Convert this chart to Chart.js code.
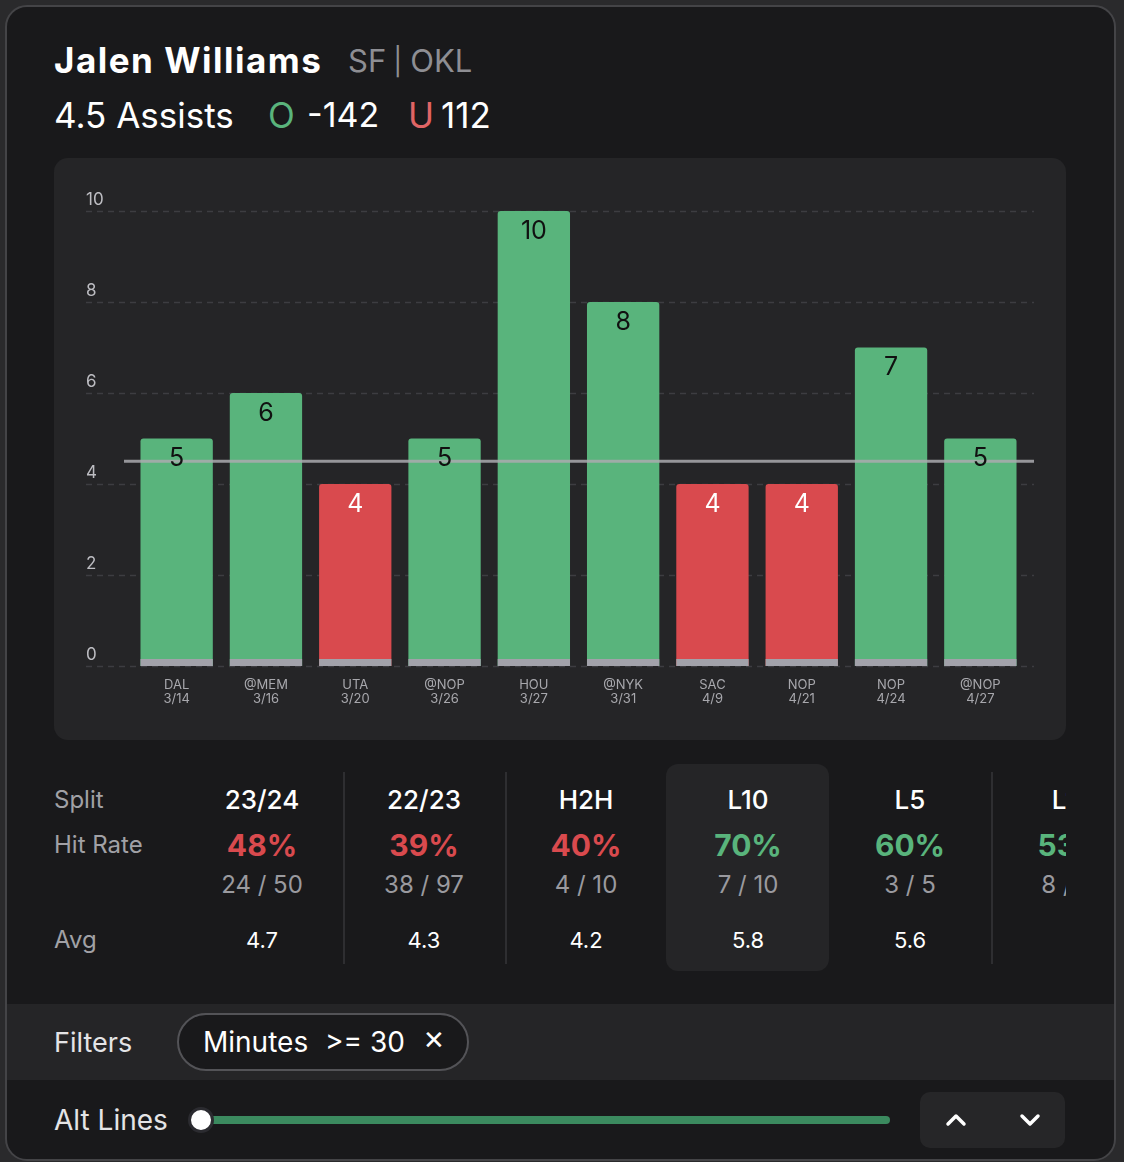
<!DOCTYPE html>
<html>
<head>
<meta charset="utf-8">
<script src="https://cdn.jsdelivr.net/npm/chart.js@4.4.0/dist/chart.umd.min.js"></script>
<style>
  html, body { margin: 0; padding: 0; }
  body { width: 1124px; height: 1162px; background: #2a2a2c; position: relative; overflow: hidden;
         font-family: Inter, "Noto Sans", sans-serif; color: #fff; }
  .abs { position: absolute; white-space: nowrap; }
  .card { left: 5px; top: 5px; width: 1111px; height: 1156px; box-sizing: border-box;
          border: 2px solid #444447; border-radius: 22px; background: #19191b; }
  .panel { left: 54px; top: 158px; width: 1012px; height: 582px; border-radius: 14px; background: #252527; overflow: hidden; }
  .tbl { left: 54px; top: 760px; width: 1012px; height: 220px; overflow: hidden; }
  .lbl { color: #a1a1a6; font-size: 24px; }
  .col { position: absolute; width: 162px; text-align: center; }
  .sep { position: absolute; top: 12px; width: 2px; height: 192px; background: #2e2e31; }
</style>
</head>
<body>
<div class="abs card"></div>

<div class="abs" style="left:54px;top:39px;font-size:35px;font-weight:700;line-height:42px;letter-spacing:1.5px">Jalen Williams</div>
<div class="abs" style="left:348px;top:41px;font-size:31px;color:#8e8e93;line-height:40px">SF<span style="font-size:27px;position:relative;top:-1px;margin:0 8px 0 7px">|</span>OKL</div>
<div class="abs" style="left:54px;top:94px;font-size:35px;line-height:42px">4.5 Assists</div>
<div class="abs" style="left:268px;top:94px;font-size:35px;line-height:42px;color:#5ab47c">O</div>
<div class="abs" style="left:307px;top:94px;font-size:34px;line-height:42px">-142</div>
<div class="abs" style="left:408px;top:94px;font-size:35px;line-height:42px;color:#e06565">U</div>
<div class="abs" style="left:441px;top:94px;font-size:35px;line-height:42px">112</div>

<div class="abs panel"><canvas id="chart" width="1012" height="582"></canvas></div>

<div class="abs tbl" id="tbl"></div>

<div class="abs" style="left:7px;top:1004px;width:1107px;height:76px;background:#252527"></div>
<div class="abs" style="left:54px;top:1027px;font-size:27px;line-height:32px;color:#e4e4e6">Filters</div>
<div class="abs" style="left:177px;top:1013px;width:292px;height:58px;box-sizing:border-box;border:2px solid #535357;border-radius:29px;background:#19191b"></div>
<div class="abs" style="left:203px;top:1026px;font-size:28px;line-height:32px">Minutes</div>
<div class="abs" style="left:325px;top:1026px;font-size:28px;line-height:32px">&gt;= 30</div>
<div class="abs" style="left:423px;top:1025px;font-size:26px;line-height:30px">&#x2715;</div>

<div class="abs" style="left:54px;top:1104px;font-size:28px;line-height:32px;color:#e4e4e6">Alt Lines</div>
<div class="abs" style="left:205px;top:1116px;width:685px;height:8px;border-radius:4px;background:#3b8a5f"></div>
<div class="abs" style="left:188px;top:1107px;width:20px;height:20px;border-radius:50%;background:#fff;border:3px solid #2b2b30"></div>
<div class="abs" style="left:920px;top:1092px;width:145px;height:56px;border-radius:10px;background:#262628"></div>
<svg class="abs" style="left:920px;top:1092px" width="145" height="56">
  <polyline points="28,32 36,24 44,32" fill="none" stroke="#fff" stroke-width="3.5" stroke-linecap="round" stroke-linejoin="round"/>
  <polyline points="102,24 110,32 118,24" fill="none" stroke="#fff" stroke-width="3.5" stroke-linecap="round" stroke-linejoin="round"/>
</svg>

<script>
// last 10 games
const opponents = ['DAL', '@MEM', 'UTA', '@NOP', 'HOU', '@NYK', 'SAC', 'NOP', 'NOP', '@NOP'];
const dates = ['3/14', '3/16', '3/20', '3/26', '3/27', '3/31', '4/9', '4/21', '4/24', '4/27'];
const assists = [5, 6, 4, 5, 10, 8, 4, 4, 7, 5];
const propLine = 4.5;
const yTicks = [0, 2, 4, 6, 8, 10];

// splits table
const splits = ['23/24', '22/23', 'H2H', 'L10', 'L5', 'L15'];
const hitRates = [48, 39, 40, 70, 60, 53];
const hitCounts = ['24 / 50', '38 / 97', '4 / 10', '7 / 10', '3 / 5', '8 / 15'];
const averages = ['4.7', '4.3', '4.2', '5.8', '5.6', ''];
const selectedSplit = 3;

const GREEN = '#59b47c';
const RED = '#d94a4e';

var tbl = document.getElementById('tbl');
var html = '';
html += '<div class="abs lbl" style="left:0;top:25px;line-height:30px">Split</div>';
html += '<div class="abs lbl" style="left:0;top:70px;line-height:30px">Hit Rate</div>';
html += '<div class="abs lbl" style="left:0;top:165px;line-height:30px">Avg</div>';
html += '<div class="abs" style="left:' + (127 + selectedSplit * 162 - 1) + 'px;top:4px;width:163px;height:207px;border-radius:12px;background:#252527"></div>';
[289, 451, 937].forEach(function(x) { html += '<div class="sep" style="left:' + x + 'px"></div>'; });
splits.forEach(function(s, i) {
    var left = 127 + i * 162;
    var c = hitRates[i] > 50 ? GREEN : RED;
    html += '<div class="col" style="left:' + left + 'px;top:25px;font-size:26px;font-weight:500;line-height:30px">' + s + '</div>';
    html += '<div class="col" style="left:' + left + 'px;top:68px;font-size:30px;font-weight:700;line-height:34px;color:' + c + '">' + hitRates[i] + '%</div>';
    html += '<div class="col" style="left:' + left + 'px;top:111px;font-size:24px;line-height:28px;color:#9a9a9f">' + hitCounts[i] + '</div>';
    html += '<div class="col" style="left:' + left + 'px;top:166px;font-size:22px;line-height:28px">' + averages[i] + '</div>';
});
tbl.innerHTML = html;

// grid, tick labels, x labels, bar bases, prop line and value labels
const decorPlugin = {
    id: 'decor',
    beforeDatasetsDraw(chart) {
        var ctx = chart.ctx, y = chart.scales.y;
        ctx.save();
        ctx.strokeStyle = '#3d3d41';
        ctx.lineWidth = 1.5;
        ctx.setLineDash([6, 5]);
        ctx.font = '17px Inter';
        ctx.fillStyle = '#bdbdc2';
        ctx.textBaseline = 'middle';
        yTicks.forEach(function(t) {
            var py = Math.round(y.getPixelForValue(t)) + 0.5;
            ctx.beginPath();
            ctx.moveTo(32, py);
            ctx.lineTo(980, py);
            ctx.stroke();
            ctx.fillText(String(t), 32, py - 12);
        });
        ctx.restore();
    },
    afterDatasetsDraw(chart) {
        var ctx = chart.ctx, x = chart.scales.x, y = chart.scales.y;
        var meta = chart.getDatasetMeta(0);
        var base = y.getPixelForValue(0);
        ctx.save();
        meta.data.forEach(function(bar) {
            ctx.fillStyle = '#a2a2aa';
            ctx.fillRect(bar.x - bar.width / 2, base - 7, bar.width, 7);
        });
        // prop line
        var ly = y.getPixelForValue(propLine);
        ctx.strokeStyle = 'rgba(170,170,175,0.85)';
        ctx.lineWidth = 3;
        ctx.beginPath();
        ctx.moveTo(70, ly);
        ctx.lineTo(980, ly);
        ctx.stroke();
        // value labels
        ctx.font = '25px Inter';
        ctx.textAlign = 'center';
        ctx.textBaseline = 'middle';
        meta.data.forEach(function(bar, i) {
            ctx.fillStyle = assists[i] > propLine ? '#111' : '#fff';
            ctx.fillText(String(assists[i]), bar.x, bar.y + 20);
        });
        // x labels
        ctx.font = '13px Inter';
        ctx.fillStyle = '#a8a8ad';
        opponents.forEach(function(o, i) {
            var px = x.getPixelForValue(i);
            ctx.fillText(o, px, 527);
            ctx.fillText(dates[i], px, 541);
        });
        ctx.restore();
    }
};

new Chart(document.getElementById('chart'), {
    type: 'bar',
    data: {
        labels: opponents,
        datasets: [{
            data: assists,
            backgroundColor: assists.map(function(v) { return v > propLine ? GREEN : RED; }),
            borderRadius: 3,
            categoryPercentage: 0.81,
            barPercentage: 1
        }]
    },
    options: {
        responsive: false,
        devicePixelRatio: 1,
        animation: false,
        layout: { padding: { left: 78, right: 41, top: 53, bottom: 74 } },
        plugins: { legend: { display: false }, tooltip: { enabled: false } },
        scales: {
            x: { display: false },
            y: { display: false, min: 0, max: 10 }
        }
    },
    plugins: [decorPlugin]
});
</script>
</body>
</html>
